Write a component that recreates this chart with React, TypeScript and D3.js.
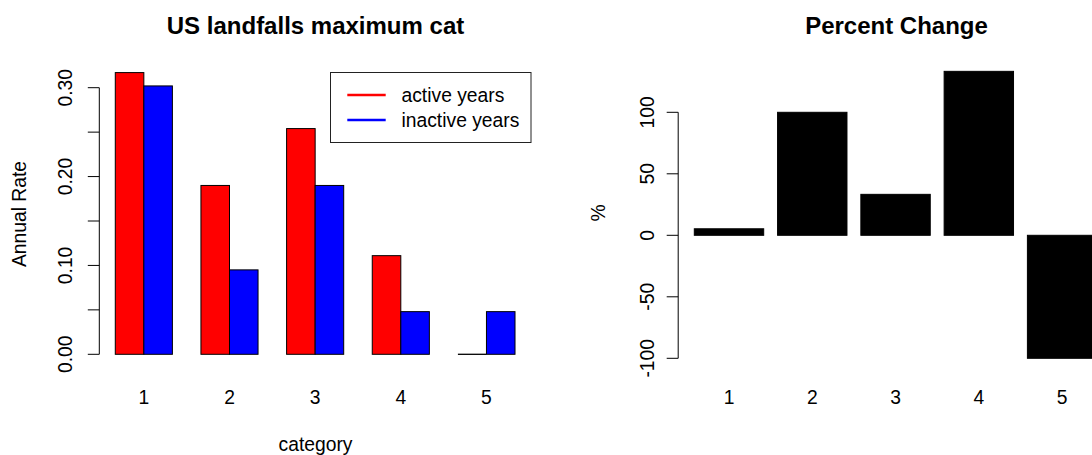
import React from "react";
import * as d3 from "d3";

// Landfall annual rates by maximum category
const categories = ["1", "2", "3", "4", "5"];
const activeRates = [0.317, 0.190, 0.254, 0.111, 0.0];
const inactiveRates = [0.302, 0.095, 0.190, 0.048, 0.048];
const percentChange = [5.3, 100, 33.3, 133.3, -100];
const rateTicks = [0, 0.05, 0.1, 0.15, 0.2, 0.25, 0.3];
const rateTickLabels = ["0.00", "", "0.10", "", "0.20", "", "0.30"];
const pctTicks = [-100, -50, 0, 50, 100];
const seriesNames = ["active years", "inactive years"];
const seriesColors = ["#FF0000", "#0000FF"];

const W = 1092;
const H = 455;
const FONT = "'Liberation Sans', Arial, Helvetica, sans-serif";
const FS = 19.3;

function Bar({ x0, x1, y0, y1, fill }: { x0: number; x1: number; y0: number; y1: number; fill: string }) {
  if (Math.abs(y0 - y1) < 0.5) {
    // zero-height bar collapses to its outline
    return <line x1={x0} x2={x1} y1={y0} y2={y0} stroke="#000" strokeWidth={1.3} />;
  }
  return (
    <rect
      x={x0}
      y={Math.min(y0, y1)}
      width={x1 - x0}
      height={Math.abs(y0 - y1)}
      fill={fill}
      stroke="#000"
      strokeWidth={1}
    />
  );
}

export default function App() {
  // Left panel: grouped bars, unit width, one unit of space before each group
  const xL = d3.scaleLinear().domain([0.44, 15.56]).range([99.3, 531]);
  const yL = d3.scaleLinear().domain([0, 0.3]).range([354.3, 87.7]);
  const groupStart = (i: number) => 1 + i * 3;

  // Right panel: single bars, width 1 with 0.2 spacing
  const xR = d3.scaleLinear().domain([-0.032, 6.232]).range([678.2, 1112.9]);
  const yR = d3.scaleLinear().domain([-100, 100]).range([358.3, 112.3]);
  const barCenter = (i: number) => 0.7 + i * 1.2;

  const series = [activeRates, inactiveRates];
  const tickLen = 11.5;

  return (
    <svg
      width={W}
      height={H}
      style={{ position: "absolute", left: 0, top: 0, background: "#fff" }}
      fontFamily={FONT}
    >
      <rect x={0} y={0} width={W} height={H} fill="#fff" />

      {/* ---------- Left panel ---------- */}
      <text x={315.5} y={34} fontSize={24} fontWeight="bold" textAnchor="middle">
        US landfalls maximum cat
      </text>

      {categories.map((c, i) =>
        series.map((vals, s) => (
          <Bar
            key={`l-${i}-${s}`}
            x0={xL(groupStart(i) + s)}
            x1={xL(groupStart(i) + s + 1)}
            y0={yL(0)}
            y1={yL(vals[i])}
            fill={seriesColors[s]}
          />
        ))
      )}

      {/* y axis */}
      <line x1={xL(0.44)} x2={xL(0.44)} y1={yL(0)} y2={yL(0.3)} stroke="#000" strokeWidth={1} />
      {rateTicks.map((t, i) => (
        <g key={`lt-${i}`}>
          <line
            x1={xL(0.44) - tickLen}
            x2={xL(0.44)}
            y1={yL(t)}
            y2={yL(t)}
            stroke="#000"
            strokeWidth={1}
          />
          {rateTickLabels[i] && (
            <text
              transform={`translate(${xL(0.44) - 27.6},${yL(t)}) rotate(-90)`}
              fontSize={FS}
              textAnchor="middle"
            >
              {rateTickLabels[i]}
            </text>
          )}
        </g>
      ))}
      <text
        transform={`translate(26,214) rotate(-90)`}
        fontSize={FS}
        textAnchor="middle"
      >
        Annual Rate
      </text>

      {/* category labels */}
      {categories.map((c, i) => (
        <text key={`lc-${i}`} x={xL(groupStart(i) + 1)} y={404} fontSize={FS} textAnchor="middle">
          {c}
        </text>
      ))}
      <text x={315.5} y={451} fontSize={FS} textAnchor="middle">
        category
      </text>

      {/* legend */}
      <rect x={330.5} y={72.5} width={200.5} height={70} fill="#fff" stroke="#222" strokeWidth={1} />
      {seriesNames.map((n, s) => (
        <g key={`lg-${s}`}>
          <line
            x1={347.3}
            x2={385.7}
            y1={95 + s * 25}
            y2={95 + s * 25}
            stroke={seriesColors[s]}
            strokeWidth={2.5}
          />
          <text x={401.5} y={95 + s * 25 + 6.8} fontSize={FS}>
            {n}
          </text>
        </g>
      ))}

      {/* ---------- Right panel ---------- */}
      <text x={896.5} y={34} fontSize={24} fontWeight="bold" textAnchor="middle">
        Percent Change
      </text>

      {percentChange.map((v, i) => (
        <Bar
          key={`r-${i}`}
          x0={xR(barCenter(i) - 0.5)}
          x1={xR(barCenter(i) + 0.5)}
          y0={yR(0)}
          y1={yR(v)}
          fill="#000"
        />
      ))}

      <line x1={xR(-0.032)} x2={xR(-0.032)} y1={yR(-100)} y2={yR(100)} stroke="#000" strokeWidth={1} />
      {pctTicks.map((t, i) => (
        <g key={`rt-${i}`}>
          <line
            x1={xR(-0.032) - tickLen}
            x2={xR(-0.032)}
            y1={yR(t)}
            y2={yR(t)}
            stroke="#000"
            strokeWidth={1}
          />
          <text
            transform={`translate(${xR(-0.032) - 24.5},${yR(t)}) rotate(-90)`}
            fontSize={FS}
            textAnchor="middle"
          >
            {String(t)}
          </text>
        </g>
      ))}
      <text transform={`translate(605,213) rotate(-90)`} fontSize={FS} textAnchor="middle">
        %
      </text>

      {categories.map((c, i) => (
        <text key={`rc-${i}`} x={xR(barCenter(i))} y={403.5} fontSize={FS} textAnchor="middle">
          {c}
        </text>
      ))}
    </svg>
  );
}
